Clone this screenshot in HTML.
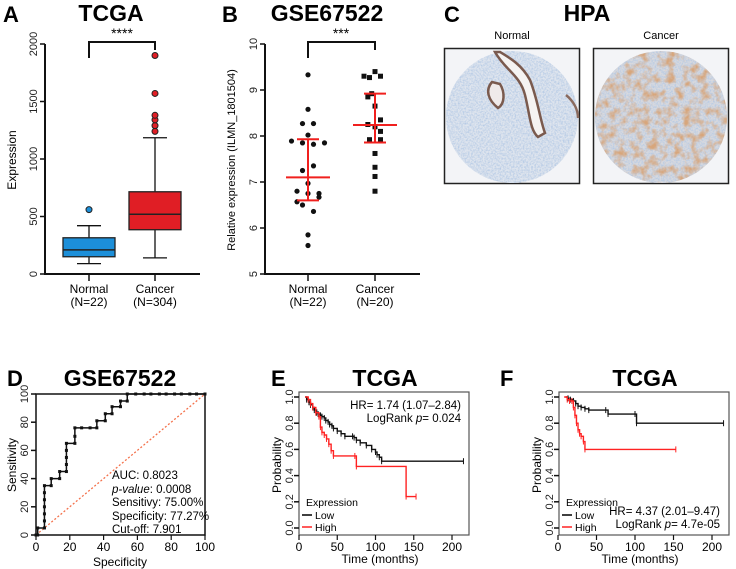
<!DOCTYPE html>
<html><head><meta charset="utf-8"><style>
html,body{margin:0;padding:0;background:#fff;}
svg{display:block;font-family:"Liberation Sans",Arial,sans-serif;}
.t{font-weight:bold;font-size:23px;}
.pl{font-weight:bold;font-size:22px;}
.tk{font-size:11px;fill:#222;}
.ax{stroke:#111;stroke-width:2;fill:none;}
</style></head><body>
<svg id="fig" width="736" height="569" viewBox="0 0 736 569">
<defs>
<filter id="tex" x="0" y="0" width="100%" height="100%"><feTurbulence type="fractalNoise" baseFrequency="0.6" numOctaves="2" seed="3"/><feColorMatrix values="0 0 0 0 0.45  0 0 0 0 0.58  0 0 0 0 0.78  0 0 0 2 -0.7"/></filter>
<filter id="tex2" x="0" y="0" width="100%" height="100%"><feTurbulence type="fractalNoise" baseFrequency="0.12" numOctaves="3" seed="7"/><feColorMatrix values="0 0 0 0 0.68  0 0 0 0 0.38  0 0 0 0 0.2  0 0 0 2.6 -1.1"/></filter>
<clipPath id="c1"><circle cx="512" cy="117" r="66"/></clipPath>
<clipPath id="c2"><circle cx="661" cy="117" r="66"/></clipPath>
</defs>
<!-- Panel A -->
<g>
<text x="3" y="22" class="pl">A</text>
<text x="111" y="21" class="t" text-anchor="middle">TCGA</text>
<text x="122" y="38" font-size="14" text-anchor="middle">****</text>
<path d="M89,58 V42 H155 V50" class="ax" stroke-width="1.2"/>
<text transform="translate(16,160) rotate(-90)" font-size="12" text-anchor="middle">Expression</text>
<g id="gA"></g>
<text x="89" y="293" font-size="12" text-anchor="middle">Normal</text>
<text x="89" y="306" font-size="12" text-anchor="middle">(N=22)</text>
<text x="155" y="293" font-size="12" text-anchor="middle">Cancer</text>
<text x="155" y="306" font-size="12" text-anchor="middle">(N=304)</text>
</g>
<!-- Panel B -->
<g>
<text x="222" y="22" class="pl">B</text>
<text x="327" y="21" class="t" text-anchor="middle">GSE67522</text>
<text x="341" y="38" font-size="14" text-anchor="middle">***</text>
<path d="M308,58 V42 H375 V50" class="ax" stroke-width="1.2"/>
<text transform="translate(235,160) rotate(-90)" font-size="11" text-anchor="middle">Relative expression (ILMN_1801504)</text>
<g id="gB"></g>
<text x="308" y="293" font-size="12" text-anchor="middle">Normal</text>
<text x="308" y="306" font-size="12" text-anchor="middle">(N=22)</text>
<text x="375" y="293" font-size="12" text-anchor="middle">Cancer</text>
<text x="375" y="306" font-size="12" text-anchor="middle">(N=20)</text>
</g>
<!-- Panel C -->
<g>
<text x="444" y="22" class="pl">C</text>
<text x="587" y="21" class="t" text-anchor="middle">HPA</text>
<text x="512" y="39" font-size="11" text-anchor="middle">Normal</text>
<text x="661" y="39" font-size="11" text-anchor="middle">Cancer</text>
<g>
<rect x="444.5" y="48.5" width="135" height="135" fill="#f3f4f7" stroke="#222" stroke-width="1.5"/>
<circle cx="512" cy="117" r="66" fill="#dfe5ee"/>
<rect x="444" y="48" width="136" height="136" filter="url(#tex)" clip-path="url(#c1)"/>
<path d="M495,52 C505,70 520,75 525,95 C530,115 530,130 538,137 L545,133 C540,120 538,100 530,80 C522,65 510,58 500,52 Z" fill="#f5f3f2" stroke="#7a5a4e" stroke-width="2.5"/>
<path d="M492,82 C485,90 488,100 498,108 C505,104 505,92 500,84 Z" fill="#efeaea" stroke="#7a5a4e" stroke-width="2.5"/>
<path d="M566,95 C572,100 578,108 578,118" fill="none" stroke="#8a6a5e" stroke-width="2.5"/>
</g>
<g>
<rect x="593.5" y="48.5" width="135" height="135" fill="#f3f4f7" stroke="#222" stroke-width="1.5"/>
<circle cx="661" cy="117" r="66" fill="#d8d9de"/>
<rect x="593" y="48" width="136" height="136" filter="url(#tex)" clip-path="url(#c2)"/>
<rect x="593" y="48" width="136" height="136" filter="url(#tex2)" clip-path="url(#c2)"/>
</g>
</g>
<!-- Panel D -->
<g>
<text x="7" y="386" class="pl">D</text>
<text x="120" y="386" class="t" text-anchor="middle">GSE67522</text>
<text transform="translate(16,465) rotate(-90)" font-size="12" text-anchor="middle">Sensitivity</text>
<text x="120" y="566" font-size="12" text-anchor="middle">Specificity</text>
<g id="gD"></g>
<g font-size="11.5">
<text x="112" y="479">AUC: 0.8023</text>
<text x="112" y="493"><tspan font-style="italic">p-value</tspan>: 0.0008</text>
<text x="112" y="506">Sensitivy: 75.00%</text>
<text x="112" y="520">Specificity: 77.27%</text>
<text x="112" y="533">Cut-off: 7.901</text>
</g>
</g>
<!-- Panel E -->
<g>
<text x="271" y="386" class="pl">E</text>
<text x="385" y="386" class="t" text-anchor="middle">TCGA</text>
<text transform="translate(281,465) rotate(-90)" font-size="12" text-anchor="middle">Probability</text>
<text x="380" y="563" font-size="12" text-anchor="middle">Time (months)</text>
<g id="gE"></g>
<text x="461" y="409" font-size="11.5" text-anchor="end">HR= 1.74 (1.07–2.84)</text>
<text x="461" y="422" font-size="11.5" text-anchor="end">LogRank <tspan font-style="italic">p</tspan>= 0.024</text>
<g font-size="10.5">
<text x="306" y="506">Expression</text>
<line x1="302" y1="515" x2="312" y2="515" stroke="#000" stroke-width="1.5"/><text x="315" y="519">Low</text>
<line x1="302" y1="527" x2="312" y2="527" stroke="#f22" stroke-width="1.5"/><text x="315" y="531">High</text>
</g>
</g>
<!-- Panel F -->
<g>
<text x="500" y="386" class="pl">F</text>
<text x="645" y="386" class="t" text-anchor="middle">TCGA</text>
<text transform="translate(541,465) rotate(-90)" font-size="12" text-anchor="middle">Probability</text>
<text x="640" y="563" font-size="12" text-anchor="middle">Time (months)</text>
<g id="gF"></g>
<text x="720" y="515" font-size="11.5" text-anchor="end">HR= 4.37 (2.01–9.47)</text>
<text x="720" y="528" font-size="11.5" text-anchor="end">LogRank <tspan font-style="italic">p</tspan>= 4.7e-05</text>
<g font-size="10.5">
<text x="566" y="506">Expression</text>
<line x1="562" y1="515" x2="572" y2="515" stroke="#000" stroke-width="1.5"/><text x="575" y="519">Low</text>
<line x1="562" y1="527" x2="572" y2="527" stroke="#f22" stroke-width="1.5"/><text x="575" y="531">High</text>
</g>
</g>
</svg>
<script>
// Panel A data
const boxGroupsA = ['Normal', 'Cancer'];
const boxNormalA = [90, 150, 210, 315, 420];
const boxCancerA = [140, 385, 520, 715, 1185];
const outliersNormalA = [560];
const outliersCancerA = [1240, 1290, 1340, 1380, 1570, 1900];
const ticksA = [0, 500, 1000, 1500, 2000];
// Panel B data
const normalB = [9.33,8.58,8.27,8.27,8.02,7.89,7.85,7.82,7.85,7.35,7.25,6.97,6.8,6.75,6.75,6.67,6.57,6.5,6.36,5.85,5.62];
const normalJitterB = [0,0,-1,1,0,-3,-1,1,3,1,-1,0,-2,0,2,2,-2,-1,1,0,0];
const cancerB = [9.4,9.3,9.27,9.3,8.92,8.85,8.65,8.35,8.25,8.2,8.1,7.92,7.92,7.62,7.32,7.12,6.8];
const cancerJitterB = [0,-2,-1,1,-0.6,-1.3,0,1,-1.3,0,1,-1,1,0,0,0,0];
const statsNormalB = [6.6, 7.1, 7.93];
const statsCancerB = [7.86, 8.24, 8.92];
const ticksB = [5, 6, 7, 8, 9, 10];
// Panel D data
const rocSpec = [0,1,1,5,5,5,5,5,5,5,9,9,14,14,18,18,18,18,18,23,23,23,27,32,36,36,41,41,45,45,50,50,54,54,59,64,68,73,77,82,86,91,95,100];
const rocSens = [0,0,5,5,10,15,20,25,30,35,35,40,40,45,45,50,55,60,65,65,70,76,76,76,76,81,81,86,86,91,91,95,95,100,100,100,100,100,100,100,100,100,100,100];
const ticksD = [0, 20, 40, 60, 80, 100];
// Panel E data
const eLowT = [8,10,13,15,18,20,23,25,28,30,33,35,38,40,43,45,50,55,60,70,72,75,80,88,95,100,102,105,108,215];
const eLowS = [1,0.98,0.96,0.94,0.92,0.9,0.88,0.87,0.86,0.85,0.84,0.82,0.81,0.79,0.78,0.76,0.74,0.72,0.70,0.70,0.69,0.67,0.65,0.63,0.60,0.58,0.56,0.54,0.51,0.51];
const eHighT = [8,12,15,18,22,26,28,30,33,36,39,42,45,73,75,140,153];
const eHighS = [1,0.98,0.95,0.92,0.88,0.85,0.77,0.73,0.71,0.68,0.64,0.59,0.55,0.55,0.47,0.24,0.24];
// Panel F data
const fLowT = [10,13,16,20,23,26,30,35,40,62,65,100,102,215];
const fLowS = [1,0.99,0.98,0.97,0.95,0.93,0.92,0.91,0.90,0.90,0.87,0.87,0.80,0.80];
const fHighT = [8,12,15,18,20,22,24,26,28,30,33,35,153];
const fHighS = [1,0.98,0.97,0.97,0.92,0.86,0.8,0.75,0.72,0.70,0.66,0.60,0.60];
const ticksKMx = [0, 50, 100, 150, 200];
const ticksKMy = [0, 0.2, 0.4, 0.6, 0.8, 1.0];

const NS = 'http://www.w3.org/2000/svg';
function mk(parent, tag, attrs, txt) {
  const el = document.createElementNS(NS, tag);
  for (const k in attrs) el.setAttribute(k, attrs[k]);
  if (txt !== undefined) el.textContent = txt;
  parent.appendChild(el);
  return el;
}
function nm(el, name, inter) {
  
  
  return el;
}
function yTicks(g, ticks, yfn, x, lbl, prefix, off) {
  off = off || 8;
  ticks.forEach(t => {
    const y = yfn(t);
    nm(mk(g, 'line', {x1: x - 5, y1: y, x2: x, y2: y, stroke: '#111', 'stroke-width': 1.5}), prefix + '-y-tick', false);
    nm(mk(g, 'text', {transform: 'translate(' + (x - off) + ',' + y + ') rotate(-90)', 'text-anchor': 'middle', class: 'tk'}, lbl(t)), prefix + '-y-tick-label', false);
  });
}
function xTicks(g, ticks, xfn, y, prefix) {
  ticks.forEach(t => {
    const x = xfn(t);
    nm(mk(g, 'line', {x1: x, y1: y, x2: x, y2: y + 5, stroke: '#111', 'stroke-width': 1.2}), prefix + '-x-tick', false);
    nm(mk(g, 'text', {x: x, y: y + 16, 'text-anchor': 'middle', 'font-size': 12}, String(t)), prefix + '-x-tick-label', false);
  });
}

// ---- Panel A
(function () {
  const g = document.getElementById('gA');
  const yA = v => 274 - v * 0.115;
  const xA = i => 89 + i * 66;
  nm(mk(g, 'path', {d: 'M45,44 V274 H200', class: 'ax'}), 'axes-a', false);
  yTicks(g, ticksA, yA, 45, t => String(t), 'a');
  [0, 1].forEach(i => nm(mk(g, 'line', {x1: xA(i), y1: 274, x2: xA(i), y2: 281, stroke: '#111', 'stroke-width': 1.5}), 'a-x-tick', false));
  const boxes = [boxNormalA, boxCancerA];
  const fills = ['#1c8fd9', '#e01e25'];
  const outs = [outliersNormalA, outliersCancerA];
  boxes.forEach((b, i) => {
    const x = xA(i);
    nm(mk(g, 'line', {x1: x, y1: yA(b[0]), x2: x, y2: yA(b[4]), stroke: '#111', 'stroke-width': 1.3}), 'whisker-' + boxGroupsA[i].toLowerCase(), false);
    mk(g, 'line', {x1: x - 12, y1: yA(b[0]), x2: x + 12, y2: yA(b[0]), stroke: '#111', 'stroke-width': 1.3});
    mk(g, 'line', {x1: x - 12, y1: yA(b[4]), x2: x + 12, y2: yA(b[4]), stroke: '#111', 'stroke-width': 1.3});
    nm(mk(g, 'rect', {x: x - 26, y: yA(b[3]), width: 52, height: yA(b[1]) - yA(b[3]), fill: fills[i], stroke: '#222', 'stroke-width': 1.3}), 'box-' + boxGroupsA[i].toLowerCase(), false);
    nm(mk(g, 'line', {x1: x - 26, y1: yA(b[2]), x2: x + 26, y2: yA(b[2]), stroke: '#222', 'stroke-width': 1.5}), 'median-' + boxGroupsA[i].toLowerCase(), false);
    outs[i].forEach(o => nm(mk(g, 'circle', {cx: x, cy: yA(o), r: 3, fill: fills[i], stroke: '#222', 'stroke-width': 1}), 'outlier', false));
  });
})();

// ---- Panel B
(function () {
  const g = document.getElementById('gB');
  const yB = v => 274 - (v - 5) * 46;
  const xN = 308, xC = 375;
  nm(mk(g, 'path', {d: 'M265,44 V274 H420', class: 'ax'}), 'axes-b', false);
  yTicks(g, ticksB, yB, 265, t => String(t), 'b');
  [xN, xC].forEach(x => nm(mk(g, 'line', {x1: x, y1: 274, x2: x, y2: 281, stroke: '#111', 'stroke-width': 1.5}), 'b-x-tick', false));
  normalB.forEach((v, i) => nm(mk(g, 'circle', {cx: xN + normalJitterB[i] * 5.5, cy: yB(v), r: 2.6, fill: '#111'}), 'point-normal', false));
  cancerB.forEach((v, i) => nm(mk(g, 'rect', {x: xC + cancerJitterB[i] * 5.5 - 2.5, y: yB(v) - 2.5, width: 5, height: 5, fill: '#111'}), 'point-cancer', false));
  [[xN, statsNormalB], [xC, statsCancerB]].forEach(([x, s]) => {
    const eg = nm(mk(g, 'g', {stroke: '#f0201e', 'stroke-width': 2}), 'error-bar', false);
    mk(eg, 'line', {x1: x, y1: yB(s[0]), x2: x, y2: yB(s[2])});
    mk(eg, 'line', {x1: x - 11, y1: yB(s[0]), x2: x + 11, y2: yB(s[0])});
    mk(eg, 'line', {x1: x - 11, y1: yB(s[2]), x2: x + 11, y2: yB(s[2])});
    mk(eg, 'line', {x1: x - 22, y1: yB(s[1]), x2: x + 22, y2: yB(s[1])});
  });
})();

// ---- Panel D
(function () {
  const g = document.getElementById('gD');
  const xD = v => 36 + v * 1.69;
  const yD = v => 535 - v * 1.41;
  nm(mk(g, 'rect', {x: 36, y: yD(100), width: 169, height: 141, fill: 'none', stroke: '#111', 'stroke-width': 1.5}), 'plot-frame-d', false);
  nm(mk(g, 'line', {x1: xD(0), y1: yD(0), x2: xD(100), y2: yD(100), stroke: '#f4704a', 'stroke-width': 1.3, 'stroke-dasharray': '2,2'}), 'reference-diagonal', false);
  yTicks(g, ticksD, yD, 36, t => String(t), 'd');
  xTicks(g, ticksD, xD, 535, 'd');
  let d = '';
  rocSpec.forEach((s, i) => { d += (i ? 'L' : 'M') + xD(s) + ',' + yD(rocSens[i]); });
  nm(mk(g, 'path', {d: d, fill: 'none', stroke: '#111', 'stroke-width': 1.5}), 'roc-curve', false);
  rocSpec.forEach((s, i) => nm(mk(g, 'rect', {x: xD(s) - 1.5, y: yD(rocSens[i]) - 1.5, width: 3, height: 3, fill: '#111'}), 'roc-point', false));
})();

// ---- KM panels
function km(gid, x0, x1, tx0, tx200, series, prefix) {
  const g = document.getElementById(gid);
  const xK = t => tx0 + t * (tx200 - tx0) / 200;
  const yK = v => 528 - v * 131;
  nm(mk(g, 'rect', {x: x0, y: 392, width: x1 - x0, height: 143, fill: 'none', stroke: '#555', 'stroke-width': 1.2}), prefix + '-plot-frame', false);
  yTicks(g, ticksKMy, yK, x0, t => t.toFixed(1), prefix, 6);
  xTicks(g, ticksKMx, xK, 535, prefix);
  series.forEach(([T, S, col, name]) => {
    let d = 'M' + xK(T[0]) + ',' + yK(S[0]);
    for (let i = 1; i < T.length; i++) d += 'H' + xK(T[i]) + 'V' + yK(S[i]);
    nm(mk(g, 'path', {d: d, fill: 'none', stroke: col, 'stroke-width': 1.4}), prefix + '-curve-' + name, false);
    for (let i = 1; i < T.length; i += 1) {
      const x = xK(T[i]), y = yK(S[i]);
      nm(mk(g, 'line', {x1: x, y1: y - 3, x2: x, y2: y + 3, stroke: col, 'stroke-width': 1}), prefix + '-censor-' + name, false);
    }
  });
}
km('gE', 299, 469, 299, 452, [[eLowT, eLowS, '#111', 'low'], [eHighT, eHighS, '#f22', 'high']], 'e');
km('gF', 559, 729, 558, 712, [[fLowT, fLowS, '#111', 'low'], [fHighT, fHighS, '#f22', 'high']], 'f');
</script>
</body></html>
